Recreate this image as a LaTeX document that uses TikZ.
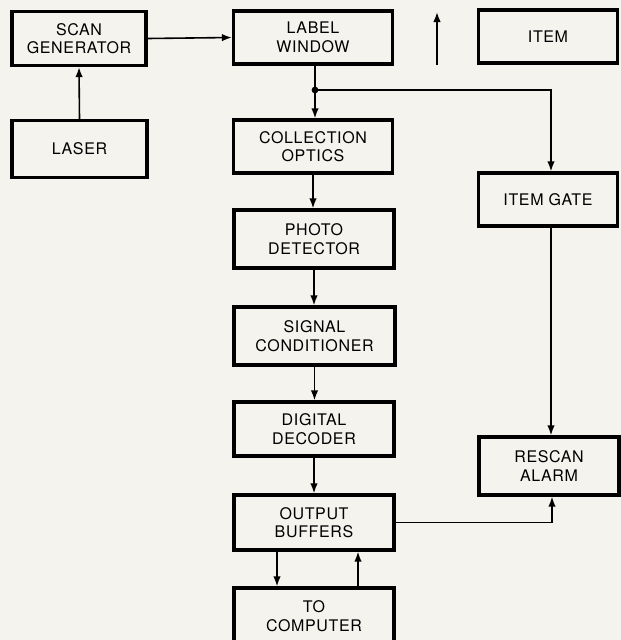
\documentclass[tikz,border=0pt]{standalone}
\usepackage{fontspec}
\setmainfont[LetterSpace=4]{TeX Gyre Heros}
\usetikzlibrary{arrows.meta}
\definecolor{paper}{RGB}{244,243,238}
\begin{document}
\begin{tikzpicture}[x=1pt,y=-1pt,
  blk/.style={draw, line width=3.4pt, align=center, inner sep=0pt,
    font=\fontsize{16}{18.5}\selectfont},
  conn/.style={line width=1.6pt, -{Latex[length=10pt,width=7.5pt]}},
  plain/.style={line width=1.6pt}]
\useasboundingbox (0,0) rectangle (621,640);
\clip (0,0) rectangle (621,640);
\fill[paper] (0,0) rectangle (621,640);
\node[blk, minimum width=134pt, minimum height=54pt] (sg) at (79,38.5) {SCAN\\GENERATOR};
\node[blk, minimum width=135pt, minimum height=57pt] (la) at (79.5,149) {LASER};
\node[blk, minimum width=159pt, minimum height=53pt] (lw) at (313,37.5) {LABEL\\WINDOW};
\node[blk, minimum width=139pt, minimum height=53pt] (it) at (548,36.5) {ITEM};
\node[blk, minimum width=159pt, minimum height=53pt] (co) at (313,146.5) {COLLECTION\\OPTICS};
\node[blk, minimum width=139pt, minimum height=53pt] (ig) at (548,199.5) {ITEM GATE};
\node[blk, minimum width=160pt, minimum height=58pt] (pd) at (314,239) {PHOTO\\DETECTOR};
\node[blk, minimum width=161pt, minimum height=58pt] (sc) at (314.5,336) {SIGNAL\\CONDITIONER};
\node[blk, minimum width=160pt, minimum height=54pt] (dd) at (314,429) {DIGITAL\\DECODER};
\node[blk, minimum width=160pt, minimum height=55pt] (ob) at (314,522.5) {OUTPUT\\BUFFERS};
\node[blk, minimum width=160pt, minimum height=70pt] (tc) at (314,623) {};
\node[font=\fontsize{16}{18.5}\selectfont, align=center] (tct) at (314,616) {TO\\COMPUTER};
\node[blk, minimum width=140pt, minimum height=58pt] (ra) at (549,466) {RESCAN\\ALARM};
% connectors
\draw[conn] (la.north) -- (sg.south);
\draw[conn] (sg.east) -- (lw.west);
\coordinate (j) at (315,90);
\draw[plain] ([xshift=2pt]lw.south) -- (j);
\draw[conn] (j) -- ([xshift=2pt]co.north);
\fill (j) circle (3.4pt);
\draw[conn] (j) -| ([xshift=3pt]ig.north);
\draw[conn] (co.south) -- (co.south |- pd.north);
\draw[conn] (pd.south) -- (pd.south |- sc.north);
\draw[conn] (sc.south) -- (sc.south |- dd.north);
\draw[conn] (dd.south) -- (dd.south |- ob.north);
\draw[conn] ([xshift=3pt]ig.south) -- ([xshift=3pt]ig.south |- ra.north);
\draw[conn] (ob.east) -| ([xshift=3pt]ra.south);
\draw[conn] ([xshift=-37pt]ob.south) -- ([xshift=-37pt]tc.north);
\draw[conn] ([xshift=44pt]tc.north) -- ([xshift=44pt]ob.south);
\coordinate (ua) at (437,65);
\coordinate (ub) at (437,12);
\draw[conn] (ua) -- (ub);
\end{tikzpicture}
\end{document}
